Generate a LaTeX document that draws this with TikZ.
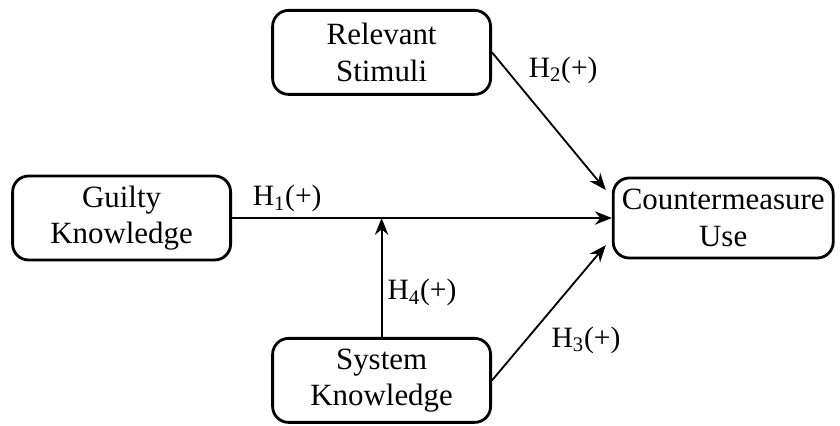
\documentclass[tikz,border=0pt]{standalone}
\usepackage{fontspec}
\setmainfont{Liberation Serif}
\usepackage{tikz}
\usetikzlibrary{arrows.meta, positioning}

\begin{document}
\begin{tikzpicture}[>={Stealth[length=12pt,width=9.5pt]}, line width=1.3pt,
    every node/.style={font=\fontsize{22}{26}\selectfont},
    construct/.style={draw, line width=2pt, rounded corners=0.4cm,
      minimum width=5.45cm, minimum height=2.1cm, align=center, inner sep=0pt},
    hyp/.style={font=\fontsize{21}{25}\selectfont}]
\useasboundingbox (0,0) rectangle (21,10.65);
% constructs
\node[construct] (rs) at (9.54, 9.34) {Relevant\\Stimuli};
\node[construct] (gk) at (3.04, 5.2) {Guilty\\Knowledge};
\node[construct, minimum width=5.5cm, minimum height=2.0cm] (cm) at (18.08, 5.2) {Countermeasure\\Use};
\node[construct] (sk) at (9.54, 1.14) {System\\Knowledge};
\coordinate (mod) at (sk.north |- gk.east);
% paths
\draw[->] (gk.east) -- (cm.west);
\draw[->] (sk.north) -- (mod);
\draw[->] (rs.east) -- ([xshift=-0.15cm, yshift=0.7cm]cm.west);
\draw[->] (sk.east) -- ([xshift=-0.15cm, yshift=-0.68cm]cm.west);
% hypotheses
\node[hyp] (h1) at (7.18, 5.68) {H\textsubscript{1}(+)};
\node[hyp] (h2) at (14.08, 8.9) {H\textsubscript{2}(+)};
\node[hyp] (h4) at (10.55, 3.33) {H\textsubscript{4}(+)};
\node[hyp] (h3) at (14.65, 2.15) {H\textsubscript{3}(+)};
\end{tikzpicture}
\end{document}
